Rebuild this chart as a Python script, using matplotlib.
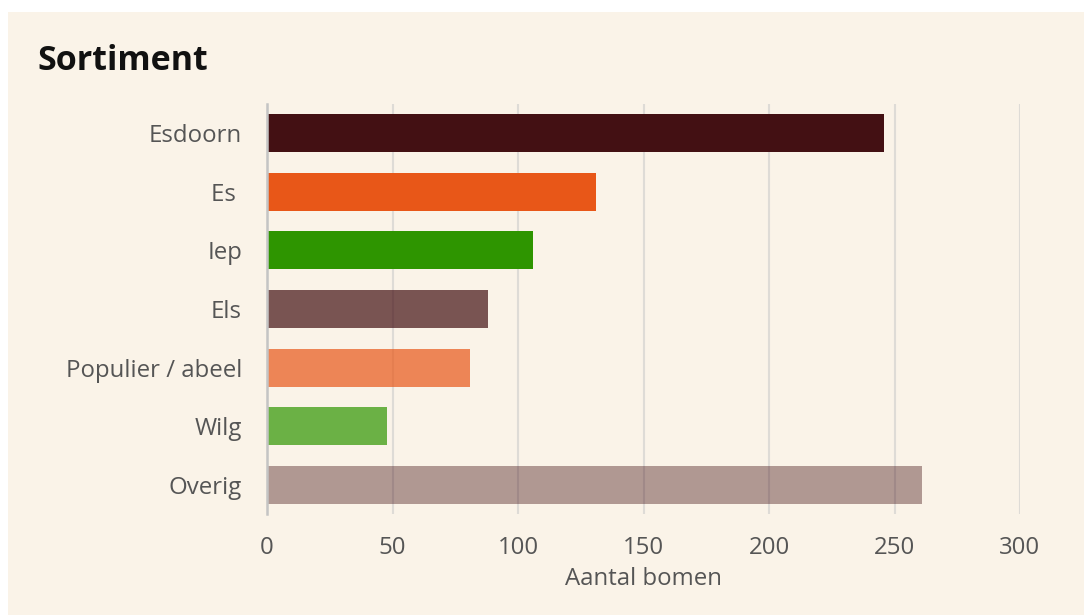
import matplotlib.pyplot as plt
from matplotlib.patches import Rectangle

categories = ["Esdoorn", "Es ", "Iep", "Els", "Populier / abeel", "Wilg", "Overig"]
values = [246, 131, 106, 88, 81, 48, 261]
colors = ["#431013", "#e85718", "#2e9500", "#431013", "#e85718", "#2e9500", "#431013"]
alphas = [1.0, 1.0, 1.0, 0.7, 0.7, 0.7, 0.4]
xticks = [0, 50, 100, 150, 200, 250, 300]

bg = "#faf3e8"
txt = "#555555"
plt.rcParams['font.family'] = ['Open Sans', 'DejaVu Sans']

fig = plt.figure(figsize=(10.84, 6.15), dpi=100, facecolor="white")
fig.patches.append(Rectangle((8 / 1084, 0), 1, 1 - 12 / 615, transform=fig.transFigure,
                             facecolor=bg, edgecolor="none", zorder=-10))

ax = fig.add_axes([267 / 1084, 1 - 514 / 615, 753 / 1084, 410 / 615])
ax.set_facecolor(bg)

ypos = list(range(len(categories)))
for y, v, c, a in zip(ypos, values, colors, alphas):
    ax.barh(y, v, height=0.65, color=c, alpha=a, zorder=2)

ax.set_xlim(0, 300)
ax.set_ylim(len(categories) - 0.5, -0.5)
ax.set_yticks(ypos)
ax.set_yticklabels(categories)
ax.set_xticks(xticks)
ax.tick_params(axis="y", length=0, pad=18, labelsize=17.3, labelcolor=txt)
ax.tick_params(axis="x", length=0, pad=16, labelsize=17.3, labelcolor=txt)
ax.grid(axis="x", color="#dedbd6", linewidth=1.5, zorder=1)
ax.set_axisbelow(True)
for s in ["top", "right", "bottom"]:
    ax.spines[s].set_visible(False)
ax.spines["left"].set_color("#c4c4c4")
ax.spines["left"].set_linewidth(1.8)
ax.set_xlabel("Aantal bomen", fontsize=17.3, color=txt, labelpad=5)

fig.text(37 / 1084, 1 - 70 / 615, "Sortiment", fontsize=24.5, fontweight="bold",
         color="#111111", ha="left", va="baseline")

fig.savefig("out.png", dpi=100, facecolor=fig.get_facecolor())
